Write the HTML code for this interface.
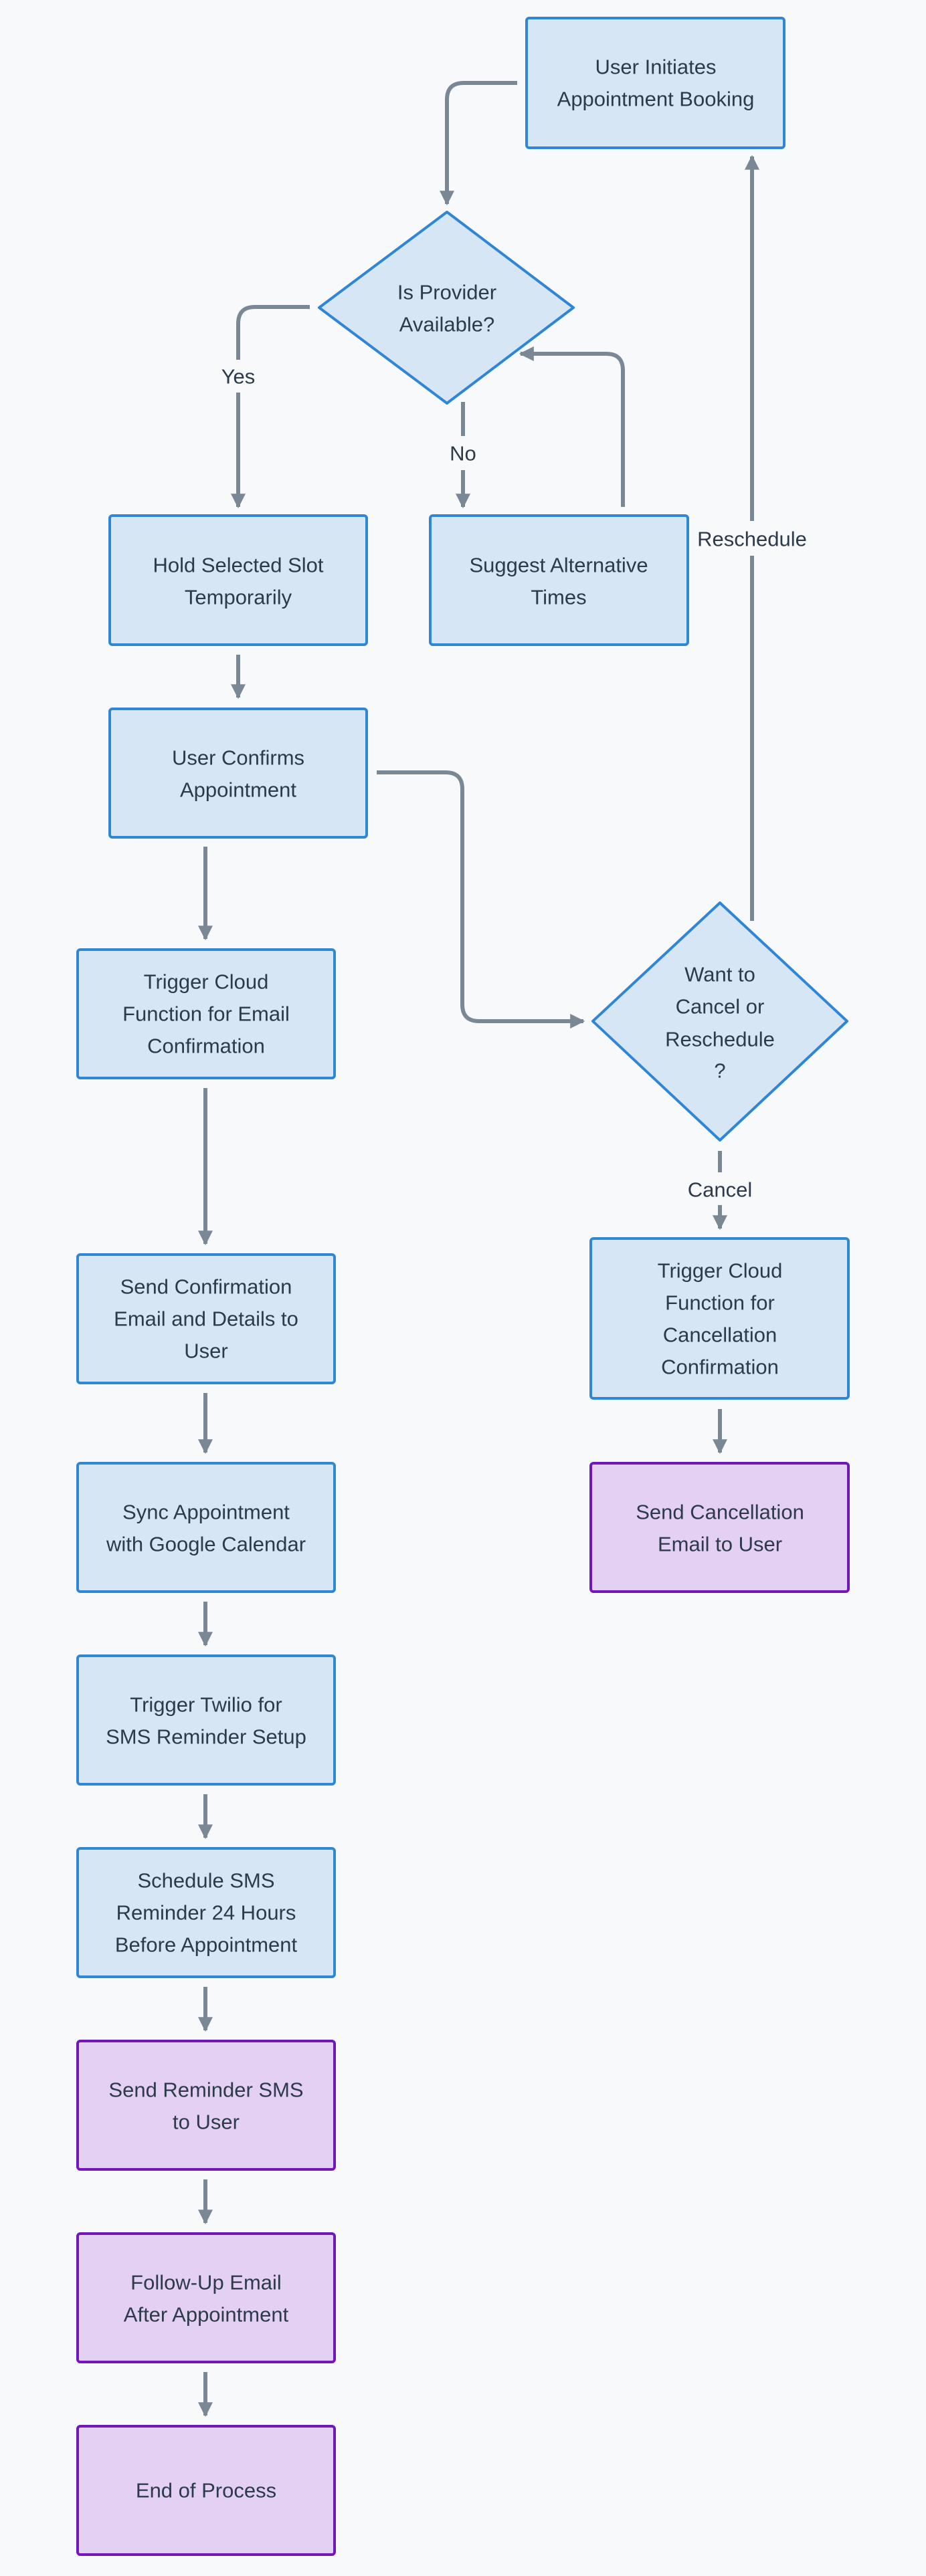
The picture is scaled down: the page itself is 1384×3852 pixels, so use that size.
<!DOCTYPE html>
<html><head><meta charset="utf-8"><style>
html,body{margin:0;padding:0;background:#f8f9fb;}
svg{display:block}
text{font-family:"Liberation Sans",sans-serif;font-size:31px;fill:#2c3a4b;text-anchor:middle;dominant-baseline:central}
.b{fill:#d6e6f5;stroke:#2f86d6;stroke-width:4}
.p{fill:#e3d0f3;stroke:#7216c0;stroke-width:4}
.e{fill:none;stroke:#7a8896;stroke-width:6}
</style></head><body>
<svg width="1384" height="3852" viewBox="0 0 1384 3852">
<defs><marker id="a" viewBox="0 0 10 10" refX="9" refY="5" markerWidth="22" markerHeight="22" markerUnits="userSpaceOnUse" orient="auto"><path d="M0,0 L10,5 L0,10 z" fill="#7a8896"/></marker></defs>
<g class="e">
<path d="M773,124 H693 Q668,124 668,149 V305" marker-end="url(#a)"/>
<path d="M463,459 H381 Q356,459 356,484 V538"/>
<path d="M356,587 V758" marker-end="url(#a)"/>
<path d="M692,601 V652"/>
<path d="M692,703 V758" marker-end="url(#a)"/>
<path d="M931,758 V554 Q931,529 906,529 H778" marker-end="url(#a)"/>
<path d="M1124,1377 V831"/>
<path d="M1124,779 V234" marker-end="url(#a)"/>
<path d="M356,979 V1043" marker-end="url(#a)"/>
<path d="M563,1155 H666 Q691,1155 691,1180 V1502 Q691,1527 716,1527 H872" marker-end="url(#a)"/>
<path d="M307,1266 V1404" marker-end="url(#a)"/>
<path d="M307,1627 V1860" marker-end="url(#a)"/>
<path d="M307,2083 V2172" marker-end="url(#a)"/>
<path d="M307,2395 V2460" marker-end="url(#a)"/>
<path d="M307,2683 V2748" marker-end="url(#a)"/>
<path d="M307,2971 V3036" marker-end="url(#a)"/>
<path d="M307,3259 V3324" marker-end="url(#a)"/>
<path d="M307,3547 V3612" marker-end="url(#a)"/>
<path d="M1076,1721 V1753"/>
<path d="M1076,1802 V1837" marker-end="url(#a)"/>
<path d="M1076,2107 V2172" marker-end="url(#a)"/>
</g>
<text x="356" y="563">Yes</text>
<text x="692" y="678">No</text>
<text x="1124" y="806">Reschedule</text>
<text x="1076" y="1779">Cancel</text>

<rect class="b" x="787" y="27" width="385" height="194" rx="4"/>
<text x="980" y="100">User Initiates</text><text x="980" y="148">Appointment Booking</text>

<path class="b" d="M668,317 L857,460 L668,603 L477,460 Z" stroke-linejoin="round"/>
<text x="668" y="437">Is Provider</text><text x="668" y="485">Available?</text>

<rect class="b" x="164" y="771" width="384" height="193" rx="4"/>
<text x="356" y="845">Hold Selected Slot</text><text x="356" y="893">Temporarily</text>
<rect class="b" x="643" y="771" width="385" height="193" rx="4"/>
<text x="835" y="845">Suggest Alternative</text><text x="835" y="893">Times</text>

<rect class="b" x="164" y="1060" width="384" height="192" rx="4"/>
<text x="356" y="1133">User Confirms</text><text x="356" y="1181">Appointment</text>

<path class="b" d="M1076,1350 L1266,1527 L1076,1705 L886,1527 Z" stroke-linejoin="round"/>
<text x="1076" y="1457">Want to</text><text x="1076" y="1505">Cancel or</text><text x="1076" y="1554">Reschedule</text><text x="1076" y="1601">?</text>

<rect class="b" x="116" y="1420" width="384" height="192" rx="4"/>
<text x="308" y="1468">Trigger Cloud</text><text x="308" y="1516">Function for Email</text><text x="308" y="1564">Confirmation</text>

<rect class="b" x="116" y="1876" width="384" height="192" rx="4"/>
<text x="308" y="1924">Send Confirmation</text><text x="308" y="1972">Email and Details to</text><text x="308" y="2020">User</text>

<rect class="b" x="883" y="1852" width="385" height="239" rx="4"/>
<text x="1076" y="1900">Trigger Cloud</text><text x="1076" y="1948">Function for</text><text x="1076" y="1996">Cancellation</text><text x="1076" y="2044">Confirmation</text>

<rect class="p" x="883" y="2188" width="385" height="192" rx="4"/>
<text x="1076" y="2261">Send Cancellation</text><text x="1076" y="2309">Email to User</text>

<rect class="b" x="116" y="2188" width="384" height="192" rx="4"/>
<text x="308" y="2261">Sync Appointment</text><text x="308" y="2309">with Google Calendar</text>

<rect class="b" x="116" y="2476" width="384" height="192" rx="4"/>
<text x="308" y="2549">Trigger Twilio for</text><text x="308" y="2597">SMS Reminder Setup</text>

<rect class="b" x="116" y="2764" width="384" height="192" rx="4"/>
<text x="308" y="2812">Schedule SMS</text><text x="308" y="2860">Reminder 24 Hours</text><text x="308" y="2908">Before Appointment</text>

<rect class="p" x="116" y="3052" width="384" height="192" rx="4"/>
<text x="308" y="3125">Send Reminder SMS</text><text x="308" y="3173">to User</text>

<rect class="p" x="116" y="3340" width="384" height="192" rx="4"/>
<text x="308" y="3413">Follow-Up Email</text><text x="308" y="3461">After Appointment</text>

<rect class="p" x="116" y="3628" width="384" height="192" rx="4"/>
<text x="308" y="3724">End of Process</text>
</svg>
</body></html>
